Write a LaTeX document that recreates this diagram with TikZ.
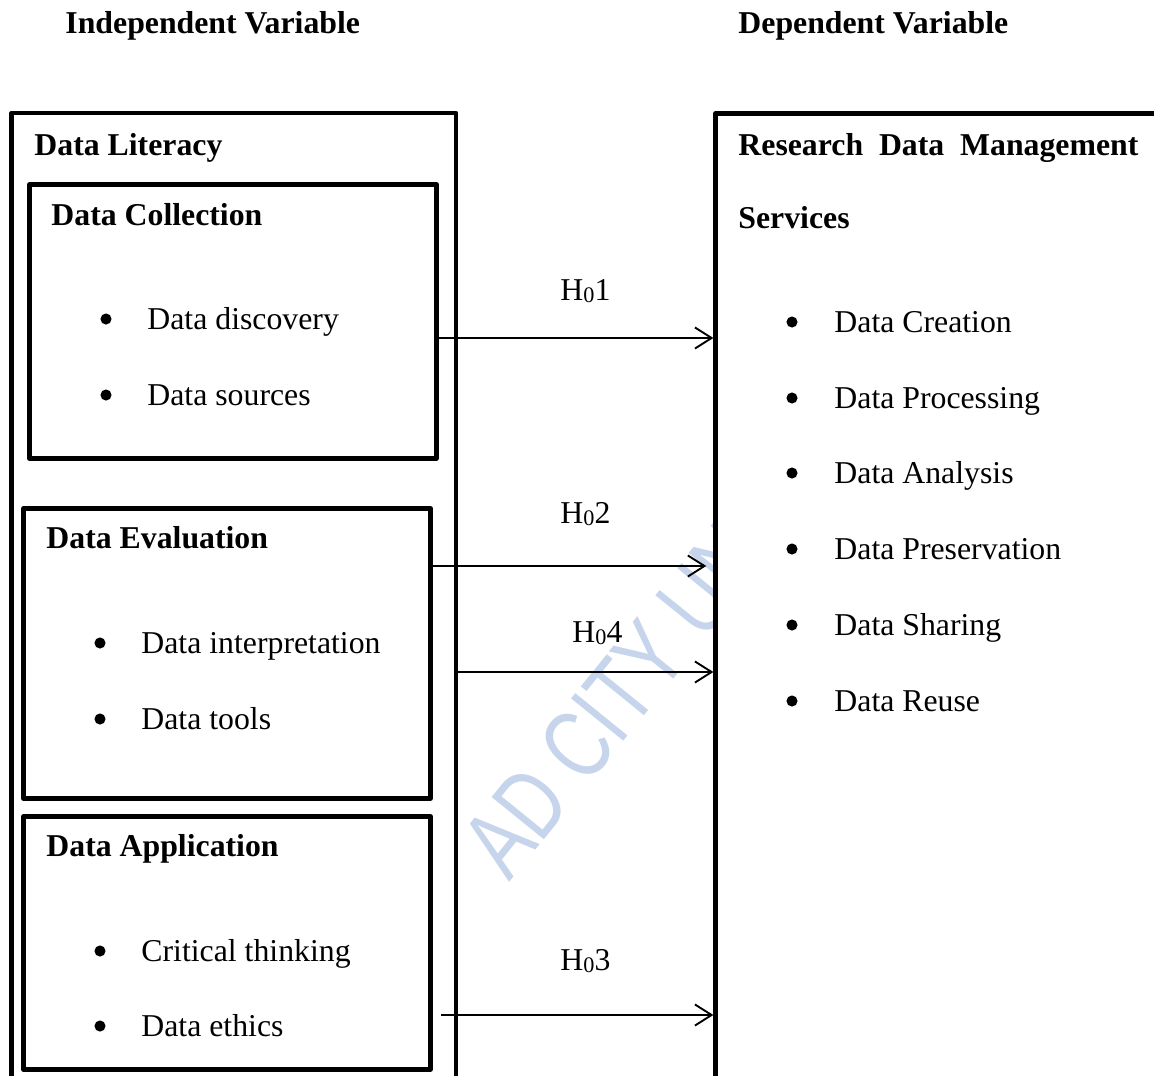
\documentclass[tikz,border=0pt]{standalone}
\usepackage{fontspec}
\setmainfont{Liberation Serif}
\newfontfamily\wmfont{Liberation Sans}
\usetikzlibrary{arrows.meta}
\definecolor{wmblue}{HTML}{C6D5EB}
\newcommand{\hzero}[1]{H\raisebox{-1.2pt}{\fontsize{10}{10}\selectfont 0}#1}
\begin{document}
\begin{tikzpicture}[x=0.45pt,y=-0.45pt,
  box/.style={draw,line width=1.9pt,fill=white,line join=round,inner sep=0pt},
  txt/.style={inner sep=0pt,anchor=base west,font=\fontsize{14.3}{17}\selectfont},
  btxt/.style={inner sep=0pt,anchor=base west,font=\fontsize{14.3}{17}\selectfont\bfseries},
  hlab/.style={inner sep=0pt,anchor=base west,font=\fontsize{14.3}{17}\selectfont},
  arr/.style={line width=0.85pt,-{Straight Barb[length=7.5pt,width=9.5pt,line width=0.85pt]}},
  bul/.style={circle,fill,inner sep=0pt,minimum size=5pt}]
\useasboundingbox (0,0) rectangle (1154,1076);
\clip (0,0) rectangle (1154,1076);
% watermark
\node[text=wmblue,font=\wmfont\fontsize{44}{44}\selectfont,inner sep=0pt,rotate=51,xscale=0.75] (wmark) at (614,700) {AD CITY UN};
% headers
\node[btxt] (hind) at (65,33) {Independent Variable};
\node[btxt] (hdep) at (738,33) {Dependent Variable};
% boxes
\node[box,minimum width=444.5*0.45pt,minimum height=1087*0.45pt] (outer) at (233.75,656.5) {};
\node[box,minimum width=407*0.45pt,minimum height=274*0.45pt] (coll) at (233,321.5) {};
\node[box,minimum width=407*0.45pt,minimum height=290*0.45pt] (eval) at (227,653.5) {};
\node[box,minimum width=407*0.45pt,minimum height=253*0.45pt] (appl) at (227,943) {};
\node[box,minimum width=584.5*0.45pt,minimum height=1086.5*0.45pt] (rbox) at (1007.75,656.75) {};
% left texts
\node[btxt] (tlit) at (34,155) {Data Literacy};
\node[btxt] (tcoll) at (51,225) {Data Collection};
\node[bul] (b1) at (106,319) {};
\node[txt] (t1) at (147,329) {Data discovery};
\node[bul] (b2) at (106,395) {};
\node[txt] (t2) at (147,405) {Data sources};
\node[btxt] (teval) at (46,548) {Data Evaluation};
\node[bul] (b3) at (100,643) {};
\node[txt] (t3) at (141,653) {Data interpretation};
\node[bul] (b4) at (100,719) {};
\node[txt] (t4) at (141,729) {Data tools};
\node[btxt] (tappl) at (46,856) {Data Application};
\node[bul] (b5) at (100,951) {};
\node[txt] (t5) at (141,961) {Critical thinking};
\node[bul] (b6) at (100,1026) {};
\node[txt] (t6) at (141,1036) {Data ethics};
% right texts
\node[btxt] (trdm) at (738,155) {\makebox[180pt][s]{Research Data Management}};
\node[btxt] (tserv) at (738,228) {Services};
\node[bul] (r1) at (792,322) {};
\node[txt] (s1) at (834,332) {Data Creation};
\node[bul] (r2) at (792,398) {};
\node[txt] (s2) at (834,408) {Data Processing};
\node[bul] (r3) at (792,473) {};
\node[txt] (s3) at (834,483) {Data Analysis};
\node[bul] (r4) at (792,549) {};
\node[txt] (s4) at (834,559) {Data Preservation};
\node[bul] (r5) at (792,625) {};
\node[txt] (s5) at (834,635) {Data Sharing};
\node[bul] (r6) at (792,701) {};
\node[txt] (s6) at (834,711) {Data Reuse};
% arrows
\coordinate (y1) at (0,338);
\coordinate (y2) at (0,566);
\coordinate (y4) at (0,672);
\coordinate (y3) at (0,1015);
\draw[arr] (coll.east |- y1) -- (rbox.west |- y1);
\draw[arr,shorten >=3.2pt] (eval.east |- y2) -- (rbox.west |- y2);
\draw[arr] (outer.east |- y4) -- (rbox.west |- y4);
\draw[arr,shorten <=3.8pt] (appl.east |- y3) -- (rbox.west |- y3);
\node[hlab] (l1) at (560,300) {\hzero{1}};
\node[hlab] (l2) at (560,523) {\hzero{2}};
\node[hlab] (l4) at (572,642) {\hzero{4}};
\node[hlab] (l3) at (560,970) {\hzero{3}};
\end{tikzpicture}
\end{document}
